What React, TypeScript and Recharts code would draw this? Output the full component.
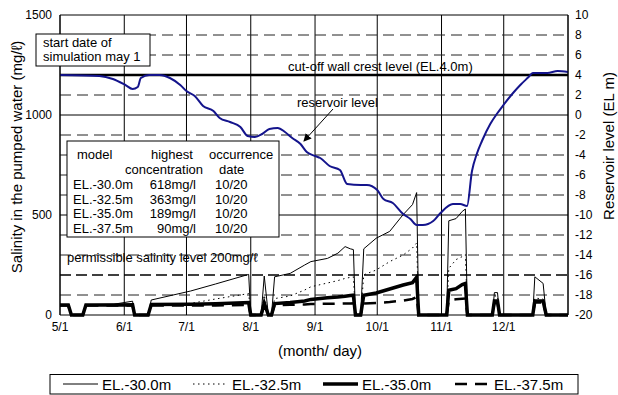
import * as React from "react"
import {
  ComposedChart,
  Line,
  XAxis,
  YAxis,
  CartesianGrid,
  ReferenceLine,
} from "recharts"

// days counted from May 1
const monthTicks = [0, 31, 61, 92, 123, 153, 184, 214]
const monthLabels = ["5/1", "6/1", "7/1", "8/1", "9/1", "10/1", "11/1", "12/1"]

const salinityTicks = [0, 500, 1000, 1500]
const levelTicks = [-20, -18, -16, -14, -12, -10, -8, -6, -4, -2, 0, 2, 4, 6, 8, 10]

const dashedGrid = [100, 300, 400, 600, 700, 800, 900, 1100, 1300, 1400]
const solidGrid = [500, 1000, 1500]

// salinity in pumped water (mg/l)
const salinityDays = [
  0, 4, 5.5, 11, 12.5, 26, 35, 36, 42.5, 44, 63, 75, 91, 92, 97, 98.5, 100.5, 102, 103.5,
  111, 118, 121, 129, 134, 137.5, 140, 141.5, 142.5, 145, 146.5, 152.5, 159, 165.5, 170,
  172, 173, 186.5, 187.5, 191, 194, 195.5, 196.5, 208.5, 209.5, 211, 212, 228, 229, 233,
  234.5, 245,
]
const el30 = [
  52, 52, 0, 0, 52, 54, 69, 0, 0, 75, 120, 155, 203, 0, 0, 195, 0, 0, 191,
  208, 250, 267, 283, 309, 342, 331, 327, 0, 0, 331, 384, 418, 502, 552,
  612, 0, 0, 471, 482, 518, 530, 0, 0, 112, 112, 0, 0, 191, 158,
  0, 0,
]
const el325 = [
  50, 50, 0, 0, 50, 50, 52, 0, 0, 55, 58, 80, 107, 0, 0, 100, 0, 0, 82,
  95, 125, 141, 160, 172, 183, 188, 191, 0, 0, 201, 225, 267, 300, 335,
  360, 0, 0, 233, 277, 292, 302, 0, 0, 95, 95, 0, 0, 85, 80,
  0, 0,
]
const el35 = [
  50, 50, 0, 0, 50, 50, 51, 0, 0, 52, 54, 56, 62, 0, 0, 60, 0, 0, 57,
  62, 70, 78, 86, 90, 94, 97, 99, 0, 0, 99, 110, 130, 150, 162,
  189, 0, 0, 124, 132, 152, 158, 0, 0, 70, 70, 0, 0, 70, 70,
  0, 0,
]
const el375 = [
  47, 47, 0, 0, 47, 47, 47, 0, 0, 48, 48, 48, 50, 0, 0, 49, 0, 0, 50,
  51, 53, 55, 56, 57, 58, 58, 59, 0, 0, 57, 60, 65, 72, 80,
  90, 0, 0, 74, 79, 81, 82, 0, 0, 60, 60, 0, 0, 62, 62,
  0, 0,
]

// reservoir level (EL m)
const reservoirDays = [
  0, 19, 25.5, 31.5, 35, 37.5, 39, 43, 48, 53, 58, 61, 65, 69, 74, 77, 82, 87, 90.5, 94,
  97.5, 101, 105, 108.5, 112, 116, 119, 123, 125.5, 130, 135, 138.5, 145, 148, 153, 156,
  160.5, 165.5, 169, 172, 175, 180, 183.5, 189.5, 193, 196.3, 198.7, 201, 203.5, 207.5,
  211, 213.5, 218.5, 222, 226, 228, 235, 240, 245,
]
const reservoirLevels = [
  4.0, 3.9, 3.6, 3.0, 2.6, 2.8, 3.7, 4.0, 4.0, 3.7, 3.0, 2.4, 1.9, 0.9, 0.4, -0.3, -0.7, -1.2, -2.1, -2.2,
  -1.9, -1.4, -1.3, -1.7, -2.3, -2.9, -3.7, -4.1, -4.3, -5.1, -5.5, -6.9, -7.0, -7.0, -7.5, -8.4,
  -8.8, -9.9, -10.4, -11.0, -11.0, -10.6, -9.8, -8.9, -8.9, -9.1, -5.6, -3.9, -2.6, -0.9,
  0.2, 0.9, 2.2, 3.0, 3.8, 4.2, 4.2, 4.4, 4.3,
]

const tableRows = [
  ["EL.-30.0m", "618mg/l", "10/20"],
  ["EL.-32.5m", "363mg/l", "10/20"],
  ["EL.-35.0m", "189mg/l", "10/20"],
  ["EL.-37.5m", "90mg/l", "10/20"],
]

const series = [
  { key: "el30", name: "EL.-30.0m", width: 1, dash: undefined },
  { key: "el325", name: "EL.-32.5m", width: 1, dash: "1.5 3.5" },
  { key: "el35", name: "EL.-35.0m", width: 3.5, dash: undefined },
  { key: "el375", name: "EL.-37.5m", width: 2.5, dash: "12 8" },
]

const salinityData = salinityDays.map((day, i) => ({
  day,
  el30: el30[i],
  el325: el325[i],
  el35: el35[i],
  el375: el375[i],
}))
const reservoirData = reservoirDays.map((day, i) => ({ day, level: reservoirLevels[i] }))

const legendX = [63, 193, 323, 455]

export default function App() {
  const tick = { fontSize: 12, fill: "#000" }
  return (
    <div
      style={{
        position: "absolute",
        left: 0,
        top: 0,
        width: 618,
        height: 395,
        background: "#fff",
        fontFamily: "'Liberation Sans', Arial, sans-serif",
      }}
    >
      <ComposedChart width={618} height={365} margin={{ top: 15, right: 0, bottom: 0, left: 0 }}>
        <CartesianGrid yAxisId="left" horizontal={false} vertical stroke="#000" />
        <XAxis
          dataKey="day"
          type="number"
          domain={[0, 245]}
          ticks={monthTicks}
          interval={0}
          tickFormatter={(v) => monthLabels[monthTicks.indexOf(v)]}
          height={50}
          tickSize={0}
          tickMargin={7}
          stroke="#000"
          tick={tick}
          allowDataOverflow
        />
        <YAxis
          yAxisId="left"
          domain={[0, 1500]}
          ticks={salinityTicks}
          interval={0}
          width={60}
          tickSize={0}
          tickMargin={8}
          stroke="#000"
          tick={tick}
        />
        <YAxis
          yAxisId="right"
          orientation="right"
          domain={[-20, 10]}
          ticks={levelTicks}
          interval={0}
          width={50}
          tickSize={0}
          tickMargin={7}
          stroke="#000"
          tick={tick}
        />
        {dashedGrid.map((v) => (
          <ReferenceLine key={"d" + v} yAxisId="left" y={v} stroke="#222" strokeDasharray="11 6" />
        ))}
        {solidGrid.map((v) => (
          <ReferenceLine key={"s" + v} yAxisId="left" y={v} stroke="#000" />
        ))}
        <ReferenceLine yAxisId="left" y={200} stroke="#000" strokeWidth={1.6} strokeDasharray="11 5" />
        <ReferenceLine yAxisId="left" y={1200} stroke="#000" strokeWidth={2.5} />
        {series.map((s) => (
          <Line
            key={s.key}
            yAxisId="left"
            data={salinityData}
            dataKey={s.key}
            type="linear"
            stroke="#000"
            strokeWidth={s.width}
            strokeDasharray={s.dash}
            dot={false}
            activeDot={false}
            isAnimationActive={false}
          />
        ))}
        <Line
          yAxisId="right"
          data={reservoirData}
          dataKey="level"
          type="monotone"
          stroke="#14148c"
          strokeWidth={2}
          dot={false}
          activeDot={false}
          isAnimationActive={false}
        />
      </ComposedChart>

      <svg
        width={618}
        height={395}
        style={{ position: "absolute", left: 0, top: 0, pointerEvents: "none" }}
      >
        <defs>
          <marker id="arr" markerWidth="8" markerHeight="8" refX="7" refY="4" orient="auto">
            <path d="M0,0 L8,4 L0,8 z" fill="#000" />
          </marker>
        </defs>
        <g fontSize={13} fill="#000">
          <rect x={36} y={34} width={114} height={32} fill="#fff" stroke="#000" />
          <text x={43} y={47}>start date of</text>
          <text x={43} y={61}>simulation may 1</text>

          <text x={288} y={71}>cut-off wall crest level (EL.4.0m)</text>
          <text x={297} y={107}>reservoir level</text>
          <line x1={333} y1={109} x2={304} y2={141} stroke="#000" markerEnd="url(#arr)" />

          <rect x={67} y={141} width={212} height={96} fill="#fff" stroke="#000" />
          <text x={77} y={159}>model</text>
          <text x={151} y={159}>highest</text>
          <text x={209} y={159}>occurrence</text>
          <text x={125} y={174}>concentration</text>
          <text x={219} y={174}>date</text>
          {tableRows.map((r, i) => (
            <g key={r[0]}>
              <text x={73} y={189 + i * 14.7}>{r[0]}</text>
              <text x={196} y={189 + i * 14.7} textAnchor="end">{r[1]}</text>
              <text x={215} y={189 + i * 14.7}>{r[2]}</text>
            </g>
          ))}

          <text x={67} y={262}>permissible salinity level 200mg/ℓ</text>
        </g>

        <g fontSize={15} fill="#000">
          <text x={320} y={356} textAnchor="middle">(month/ day)</text>
          <text transform="translate(22,157) rotate(-90)" textAnchor="middle">
            Salinity in the pumped water (mg/ℓ)
          </text>
          <text transform="translate(614,146) rotate(-90)" textAnchor="middle">
            Reservoir level (EL m)
          </text>
        </g>

        <rect x={50} y={374.5} width={528} height={19.5} fill="none" stroke="#000" />
        {series.map((s, i) => (
          <g key={s.key}>
            <line
              x1={legendX[i]}
              x2={legendX[i] + 35}
              y1={384}
              y2={384}
              stroke="#000"
              strokeWidth={s.width}
              strokeDasharray={s.dash}
            />
            <text x={legendX[i] + 39} y={390} fontSize={15} fill="#000">{s.name}</text>
          </g>
        ))}
      </svg>
    </div>
  )
}
